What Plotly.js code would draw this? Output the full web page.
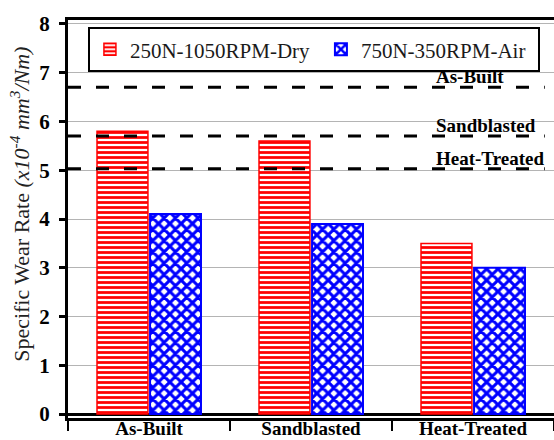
<!DOCTYPE html>
<html><head><meta charset="utf-8">
<script src="https://cdn.plot.ly/plotly-3.0.1.min.js"></script>
<style>html,body{margin:0;padding:0;background:#fff}</style>
</head><body>
<div id="chart" style="width:554px;height:440px"></div>
<script>
const categories = ['As-Built', 'Sandblasted', 'Heat-Treated'];
const seriesNames = ['250N-1050RPM-Dry', '750N-350RPM-Air'];
const dryValues = [5.8, 5.6, 3.5];
const airValues = [4.1, 3.9, 3.0];
const refNames = ['As-Built', 'Sandblasted', 'Heat-Treated'];
const refValues = [6.7, 5.7, 5.03];
const yTickValues = [0, 1, 2, 3, 4, 5, 6, 7, 8];
const yTitle = 'Specific Wear Rate <i>(x10<sup>-4</sup> mm<sup>3</sup>/Nm)</i>';

const FONT = 'Liberation Serif';

const traces = [
  {
    type: 'bar', name: seriesNames[0], x: categories, y: dryValues,
    marker: {
      color: '#ffffff',
      line: {color: '#ff0000', width: 1.5},
      pattern: {shape: '-', fgcolor: '#ff0000', bgcolor: '#ffffff', size: 5, solidity: 0.55, fillmode: 'replace'}
    },
    legendwidth: 186
  },
  {
    type: 'bar', name: seriesNames[1], x: categories, y: airValues,
    marker: {
      color: '#ffffff',
      line: {color: '#0000ff', width: 2},
      pattern: {shape: 'x', fgcolor: '#0000ff', bgcolor: '#ffffff', size: 8, solidity: 0.62, fillmode: 'replace'}
    },
    legendwidth: 172
  }
];

const shapes = refValues.map(v => ({
  type: 'line', xref: 'paper', yref: 'y', x0: 0, x1: 0.981, y0: v, y1: v,
  line: {color: '#000000', width: 3, dash: '13px,15px'}, layer: 'above'
}));

const annotations = refNames.map((n, i) => ({
  xref: 'paper', yref: 'y', x: 0.753, y: refValues[i], xanchor: 'left', yanchor: 'bottom',
  text: '<b>' + n + '</b>', showarrow: false, yshift: -2,
  font: {family: FONT, size: 19, color: '#000000'}
}));

annotations.push({
  xref: 'paper', yref: 'paper', x: -0.0988, y: 0.538, xanchor: 'center', yanchor: 'middle',
  textangle: -90, showarrow: false, text: yTitle,
  font: {family: FONT, size: 22, color: '#222222'}
});

const layout = {
  width: 554, height: 440,
  margin: {l: 68, r: 0, t: 20, b: 22},
  paper_bgcolor: '#ffffff', plot_bgcolor: '#ffffff',
  barmode: 'group', bargap: 0.345, bargroupgap: 0.04,
  showlegend: true,
  legend: {
    orientation: 'h', x: 0.041, y: 0.982, xanchor: 'left', yanchor: 'top',
    bordercolor: '#000000', borderwidth: 2, bgcolor: '#ffffff',
    font: {family: FONT, size: 21, color: '#1a1a1a'}
  },
  xaxis: {
    type: 'category', range: [-0.5, 2.5],
    tickson: 'boundaries', ticks: 'outside', ticklen: 10, tickwidth: 2, tickcolor: '#000',
    showline: true, linewidth: 3, linecolor: '#000', mirror: true,
    showgrid: false, zeroline: false,
    tickfont: {family: FONT, size: 19, color: '#000', weight: 'bold'},
    ticklabelstandoff: -9
  },
  yaxis: {
    range: [-0.08, 8.08], tickvals: yTickValues, ticktext: yTickValues.map(String),
    ticks: 'outside', ticklen: 6, tickwidth: 3, tickcolor: '#000',
    showline: true, linewidth: 3, linecolor: '#000', mirror: true,
    showgrid: true, gridcolor: '#b4b4b4', gridwidth: 1,
    zeroline: true, zerolinecolor: '#000', zerolinewidth: 3,
    tickfont: {family: FONT, size: 21, color: '#000', weight: 'bold'},
    ticklabelstandoff: 5
  },
  shapes: shapes,
  annotations: annotations
};

Plotly.newPlot('chart', traces, layout, {displayModeBar: false, staticPlot: true});
</script>
</body></html>
